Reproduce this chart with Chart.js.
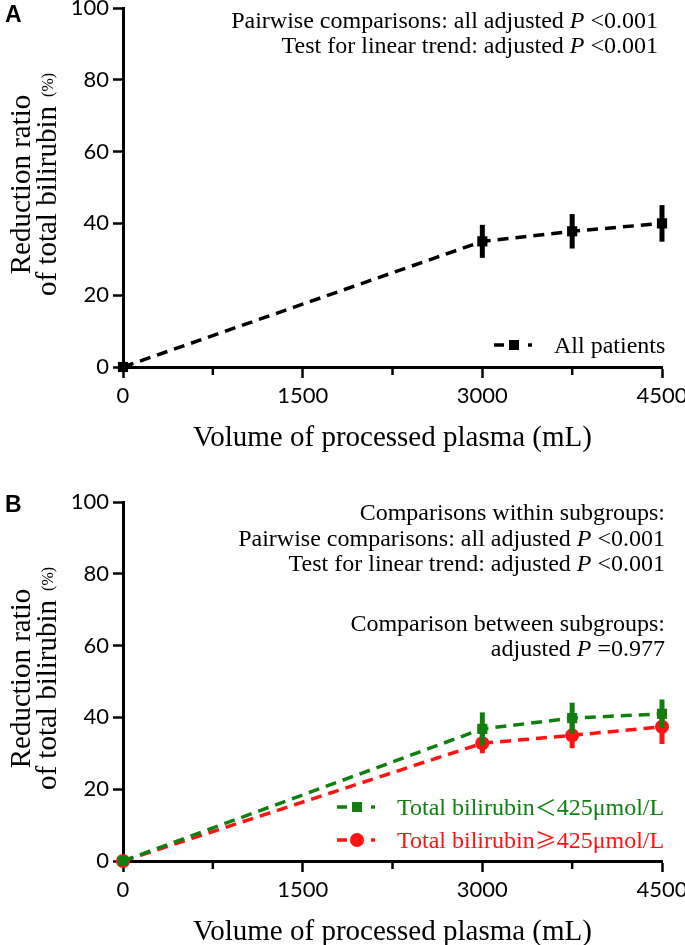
<!DOCTYPE html>
<html>
<head>
<meta charset="utf-8">
<style>
html, body { margin: 0; padding: 0; background: #fff; }
#wrapA { position: absolute; left: 0; top: 0; width: 685px; height: 494px; }
#wrapB { position: absolute; left: 0; top: 494px; width: 685px; height: 451px; }
</style>
<script src="https://cdn.jsdelivr.net/npm/chart.js@4.4.0/dist/chart.umd.min.js"></script>
</head>
<body>
<div id="wrapA"><canvas id="chartA"></canvas></div>
<div id="wrapB"><canvas id="chartB"></canvas></div>
<script>
// dados
const volumes = [0, 3000, 3750, 4500];
const allPatients = [0, 35.0, 37.8, 40.0];
const allPatientsErr = [0, 4.6, 4.8, 5.1];
const lowBili = [0, 36.8, 39.8, 41.0];
const lowBiliErr = [0, 4.6, 4.3, 4.0];
const highBili = [0, 32.8, 35.0, 37.4];
const highBiliErr = [0, 2.8, 3.6, 4.8];

const yTicks = [0, 20, 40, 60, 80, 100];
const xTicks = [0, 1500, 3000, 4500];
const xMinor = [750, 2250, 3750];

const notesA = [
   ["Pairwise comparisons: all adjusted ", "P", " <0.001"],
   ["Test for linear trend: adjusted ", "P", " <0.001"],
];
const notesB = [
   ["Comparisons within subgroups:"],
   ["Pairwise comparisons: all adjusted ", "P", " <0.001"],
   ["Test for linear trend: adjusted ", "P", " <0.001"],
   ["Comparison between subgroups:"],
   ["adjusted ", "P", " =0.977"],
];

const GREEN = "#0f800f";
const RED = "#ff1212";
const SERIF = "'Liberation Serif', 'Times New Roman', serif";
const SANS = "Lato, 'Open Sans', sans-serif";
const CJK = "'Noto Sans CJK SC', sans-serif";

function pontos(ys) {
   return volumes.map((v, i) => ({ x: v, y: ys[i] }));
}

// desenha marcador (quadrado ou círculo)
function marcador(ctx, tipo, x, y, cor) {
   ctx.fillStyle = cor;
   if (tipo === "circle") {
      ctx.beginPath();
      ctx.arc(x, y, 7, 0, Math.PI * 2);
      ctx.fill();
   } else {
      ctx.fillRect(x - 5, y - 5, 10, 10);
   }
}

const decor = {
   id: "decor",
   afterDatasetsDraw(chart, args, opts) {
      const ctx = chart.ctx, xs = chart.scales.x, ys = chart.scales.y;
      opts.errors.forEach(e => {
         ctx.save();
         ctx.strokeStyle = e.color;
         ctx.lineWidth = 5;
         volumes.forEach((v, i) => {
            if (!e.err[i]) return;
            const px = xs.getPixelForValue(v);
            ctx.beginPath();
            ctx.moveTo(px, ys.getPixelForValue(e.mean[i] - e.err[i]));
            ctx.lineTo(px, ys.getPixelForValue(e.mean[i] + e.err[i]));
            ctx.stroke();
         });
         ctx.restore();
      });
   },
   afterDraw(chart, args, opts) {
      const ctx = chart.ctx, xs = chart.scales.x, ca = chart.chartArea;
      ctx.save();
      // ticks menores
      ctx.strokeStyle = "#000";
      ctx.lineWidth = 2.5;
      xMinor.forEach(v => {
         const px = xs.getPixelForValue(v);
         ctx.beginPath();
         ctx.moveTo(px, ca.bottom);
         ctx.lineTo(px, ca.bottom + 8);
         ctx.stroke();
      });

      ctx.fillStyle = "#000";
      // título eixo y
      const cy = (ca.top + ca.bottom) / 2 - 3;
      ctx.save();
      ctx.translate(0, cy);
      ctx.rotate(-Math.PI / 2);
      ctx.font = "29px " + SERIF;
      ctx.textAlign = "center";
      ctx.fillText("Reduction ratio", 0, 30);
      const l2 = "of total bilirubin";
      const w1 = ctx.measureText(l2).width;
      ctx.font = "16px " + SERIF;
      const w2 = ctx.measureText("(%)").width;
      const start = -(w1 + 9 + w2) / 2;
      ctx.textAlign = "left";
      ctx.font = "29px " + SERIF;
      ctx.fillText(l2, start, 56);
      ctx.font = "16px " + SERIF;
      ctx.fillText("(%)", start + w1 + 9, 53);
      ctx.restore();

      // título eixo x
      ctx.font = "29px " + SERIF;
      ctx.textAlign = "center";
      ctx.fillText("Volume of processed plasma (mL)", (ca.left + ca.right) / 2, ca.bottom + 79);

      // notas com P em itálico
      ctx.textAlign = "left";
      opts.notes.forEach((partes, k) => {
         const fonts = partes.map((p, j) => (j === 1 ? "italic " : "") + "24px " + SERIF);
         let total = 0;
         partes.forEach((p, j) => { ctx.font = fonts[j]; total += ctx.measureText(p).width; });
         let x = opts.noteRight - total;
         partes.forEach((p, j) => {
            ctx.font = fonts[j];
            ctx.fillText(p, x, opts.noteY[k]);
            x += ctx.measureText(p).width;
         });
      });

      // legenda
      opts.legend.forEach(item => {
         const x0 = item.x, y = item.y;
         ctx.strokeStyle = item.color;
         ctx.lineWidth = 3.5;
         ctx.beginPath();
         ctx.moveTo(x0, y);
         ctx.lineTo(x0 + 10, y);
         ctx.moveTo(x0 + 34, y);
         ctx.lineTo(x0 + 38, y);
         ctx.stroke();
         marcador(ctx, item.marker, x0 + 20, y, item.color);
         ctx.fillStyle = item.color;
         let tx = x0 + 60;
         item.parts.forEach((p, j) => {
            ctx.font = j === 1 ? "22px " + CJK : "24px " + SERIF;
            ctx.fillText(p, tx, y + 8);
            tx += ctx.measureText(p).width;
         });
      });

      // letra do painel
      ctx.fillStyle = "#000";
      ctx.font = "bold 23px 'Liberation Sans', Arial, sans-serif";
      ctx.fillText(opts.letter, 5, opts.letterY);
      ctx.restore();
   }
};

function criarGrafico(id, altura, datasets, extra) {
   const ctxEl = document.getElementById(id);
   return new Chart(ctxEl, {
      type: "scatter",
      data: { datasets: datasets },
      options: {
         responsive: true,
         maintainAspectRatio: false,
         animation: false,
         events: [],
         layout: { autoPadding: false, padding: { top: 8, right: 23, left: 0, bottom: 0 } },
         plugins: {
            legend: { display: false },
            tooltip: { enabled: false },
            decor: extra,
         },
         scales: {
            x: {
               type: "linear",
               min: 0,
               max: 4500,
               afterBuildTicks: s => {
                  s.ticks = xTicks.concat(xMinor).sort((a, b) => a - b).map(v => ({ value: v }));
               },
               afterFit: s => {
                  s.height = altura - 367;
                  s.paddingLeft = 0;
                  s.paddingRight = 0;
               },
               border: { display: true, color: "#000", width: 3 },
               grid: {
                  drawOnChartArea: false,
                  tickLength: 11,
                  tickWidth: 2.5,
                  tickColor: c => (c.tick && xMinor.includes(c.tick.value) ? "rgba(0,0,0,0)" : "#000"),
               },
               ticks: {
                  autoSkip: false,
                  maxRotation: 0,
                  padding: 5,
                  color: "#000",
                  font: { family: SANS, size: 22 },
                  callback: v => (xTicks.includes(v) ? String(v) : ""),
               },
            },
            y: {
               type: "linear",
               min: 0,
               max: 100,
               afterBuildTicks: s => {
                  s.ticks = yTicks.map(v => ({ value: v }));
               },
               afterFit: s => {
                  s.width = 123;
                  s.paddingTop = 0;
                  s.paddingBottom = 0;
               },
               border: { display: true, color: "#000", width: 3 },
               grid: { drawOnChartArea: false, tickLength: 10, tickWidth: 2.5, tickColor: "#000" },
               ticks: {
                  padding: 4,
                  color: "#000",
                  font: { family: SANS, size: 22 },
               },
            },
         },
      },
      plugins: [decor],
   });
}

function serie(label, ys, cor, estilo, raio) {
   return {
      label: label,
      data: pontos(ys),
      showLine: true,
      clip: false,
      borderColor: cor,
      backgroundColor: cor,
      borderWidth: 3.5,
      borderDash: [11, 7],
      pointStyle: estilo,
      pointRadius: raio,
      pointBorderWidth: 0,
      pointBackgroundColor: cor,
   };
}

criarGrafico("chartA", 494,
   [serie("All patients", allPatients, "#000", "rect", 7.2)],
   {
      errors: [{ mean: allPatients, err: allPatientsErr, color: "#000" }],
      notes: notesA,
      noteRight: 658,
      noteY: [28, 53],
      legend: [{ parts: ["All patients"], color: "#000", marker: "rect", x: 494, y: 345 }],
      letter: "A",
      letterY: 22,
   });

criarGrafico("chartB", 451,
   [
      serie("Total bilirubin＜425μmol/L", lowBili, GREEN, "rect", 7.2),
      serie("Total bilirubin≥425μmol/L", highBili, RED, "circle", 7),
   ],
   {
      errors: [
         { mean: highBili, err: highBiliErr, color: RED },
         { mean: lowBili, err: lowBiliErr, color: GREEN },
      ],
      notes: notesB,
      noteRight: 665,
      noteY: [26, 52, 77, 137, 162],
      legend: [
         { parts: ["Total bilirubin", "＜", "425μmol/L"], color: GREEN, marker: "rect", x: 337, y: 313 },
         { parts: ["Total bilirubin", "≥", "425μmol/L"], color: RED, marker: "circle", x: 337, y: 346 },
      ],
      letter: "B",
      letterY: 18,
   });
</script>
</body>
</html>
